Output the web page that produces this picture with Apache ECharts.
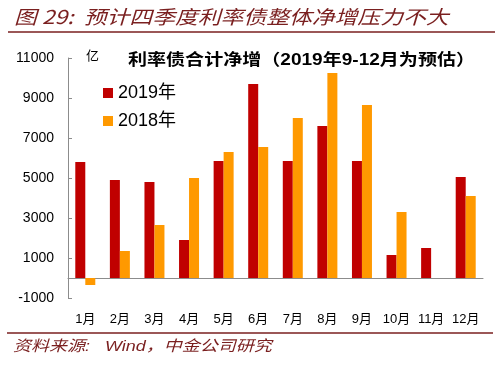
<!DOCTYPE html>
<html>
<head>
<meta charset="utf-8">
<script src="https://cdn.jsdelivr.net/npm/echarts@6/dist/echarts.min.js"></script>
<style>html,body{margin:0;padding:0;background:#fff;}#c{width:500px;height:365px;}</style>
</head>
<body>
<div id="c"></div>
<script>
var categories = ['1月','2月','3月','4月','5月','6月','7月','8月','9月','10月','11月','12月'];
var series2019 = [5800, 4900, 4800, 1900, 5850, 9700, 5850, 7600, 5850, 1150, 1500, 5050];
var series2018 = [-350, 1350, 2650, 5000, 6300, 6550, 8000, 10250, 8650, 3300, null, 4100];
var yTicks = [-1000, 1000, 3000, 5000, 7000, 9000, 11000];
var seriesNames = ['2019年', '2018年'];
var headerText = '图 29:  预计四季度利率债整体净增压力不大';
var chartTitle = '利率债合计净增（2019年9-12月为预估）';
var unitText = '亿';
var footerText = '资料来源:   Wind，中金公司研究';

var chart = echarts.init(document.getElementById('c'), null, {renderer: 'canvas'});
var axisColor = '#8c8c8c';
var dark = '#7a1f1f';
var option = {
  animation: false,
  backgroundColor: '#fff',
  textStyle: {fontFamily: 'Liberation Sans, Arial, "Noto Sans CJK SC", sans-serif'},
  grid: {left: 68, right: 17, top: 58, bottom: 67, containLabel: false},
  legend: {
    orient: 'vertical', left: 98, top: 79, itemWidth: 10, itemHeight: 10, itemGap: 10,
    icon: 'rect', data: seriesNames,
    textStyle: {fontSize: 18, color: '#000', fontFamily: 'Liberation Sans, Arial, "Noto Sans CJK SC", sans-serif'}
  },
  xAxis: {
    type: 'category', data: categories,
    axisLine: {onZero: true, lineStyle: {color: axisColor, width: 1}},
    axisTick: {inside: true, length: 4, lineStyle: {color: axisColor}},
    axisLabel: {margin: 15, fontSize: 13, color: '#000', interval: 0}
  },
  yAxis: {
    type: 'value', min: -1000, max: 11000, interval: 2000,
    axisLine: {show: true, lineStyle: {color: axisColor, width: 1}},
    axisTick: {show: true, inside: true, length: 4, lineStyle: {color: axisColor}},
    splitLine: {show: false},
    axisLabel: {margin: 14, fontSize: 14, color: '#000',
      formatter: function (v) { return yTicks.indexOf(v) >= 0 ? String(v) : ''; }}
  },
  series: [
    {name: seriesNames[0], type: 'bar', data: series2019, barWidth: 10, barGap: '0%', itemStyle: {color: '#C00000'}},
    {name: seriesNames[1], type: 'bar', data: series2018, barWidth: 10, barGap: '0%', itemStyle: {color: '#FF9900'}}
  ],
  graphic: [
    {type: 'text', x: 14, y: 17, scaleX: 1.2, style: {text: headerText, font: 'italic 19px "Noto Sans CJK SC", sans-serif', fill: dark, align: 'left', verticalAlign: 'middle'}},
    {type: 'line', shape: {x1: 8, y1: 32, x2: 495, y2: 32}, style: {stroke: dark, lineWidth: 1.5}},
    {type: 'text', x: 128, y: 61, scaleX: 1.19, style: {text: chartTitle, font: 'bold 16px "Liberation Sans", Arial, "Noto Sans CJK SC", sans-serif', fill: '#000', align: 'left', verticalAlign: 'middle'}},
    {type: 'text', x: 86, y: 55, style: {text: unitText, font: '13px "Noto Sans CJK SC", sans-serif', fill: '#000', align: 'left', verticalAlign: 'middle'}},
    {type: 'line', shape: {x1: 7, y1: 333, x2: 493, y2: 333}, style: {stroke: dark, lineWidth: 1.5}},
    {type: 'text', x: 13, y: 347, scaleX: 1.2, style: {text: footerText, font: 'italic 15px "Liberation Sans", Arial, "Noto Sans CJK SC", sans-serif', fill: dark, align: 'left', verticalAlign: 'middle'}}
  ]
};
chart.setOption(option);
</script>
</body>
</html>
